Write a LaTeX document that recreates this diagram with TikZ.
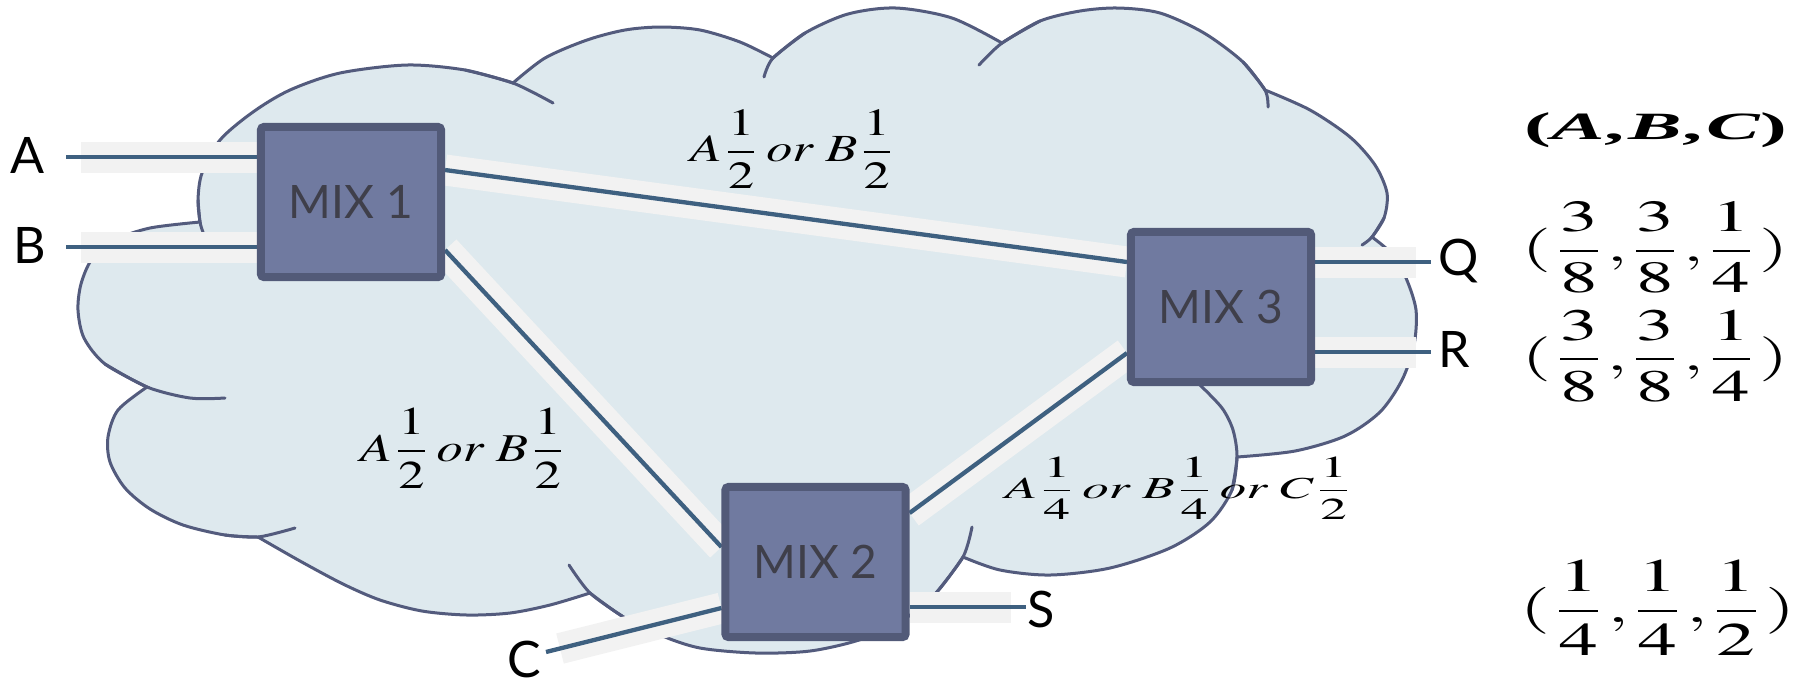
\documentclass[tikz,border=0pt]{standalone}
\usepackage{graphicx}
\usepackage{mathptmx}
\usepackage[no-math]{fontspec}
\newfontfamily\lato{Lato}
\newfontfamily\timesf{Liberation Serif}
\usetikzlibrary{calc}
\pgfdeclarelayer{bg}
\pgfdeclarelayer{lines}
\pgfsetlayers{bg,lines,main}
\definecolor{cloudfill}{HTML}{DEE9EE}
\definecolor{cloudline}{HTML}{535B7D}
\definecolor{boxfill}{HTML}{707AA0}
\definecolor{boxline}{HTML}{525A78}
\definecolor{mixtext}{HTML}{3F3F4A}
\definecolor{bandgray}{HTML}{F2F2F2}
\definecolor{wireblue}{HTML}{3E6080}
\begin{document}
\begin{tikzpicture}[x=0.01cm,y=-0.01cm,
  cloudstroke/.style={draw=cloudline,line width=0.03cm,line cap=round},
  mixbox/.style={draw=boxline,fill=boxfill,line width=0.08cm,rounded corners=0.03cm,
    minimum width=1.80cm,minimum height=1.50cm,text=mixtext,
    font=\lato\fontsize{13.1}{15}\selectfont},
  lbl/.style={inner sep=0pt,font=\lato\fontsize{14.3}{16}\selectfont,anchor=base west},
  mathlbl/.style={inner sep=0pt},
  band/.style={draw=bandgray,line width=0.31cm},
  wire/.style={draw=wireblue,line width=0.043cm}]
\useasboundingbox (0,0) rectangle (1804,684);

\begin{pgfonlayer}{bg}
\path[fill=cloudfill,cloudstroke]
    plot[smooth] coordinates {(200,222) (198,200) (202,173) (220,140) (253,112) (290,90) (340,73) (407,65) (465,70) (513,83)}
 -- plot[smooth] coordinates {(513,83) (545,58) (587,40) (625,30) (661,27) (700,30) (740,42) (773,58)}
 -- plot[smooth] coordinates {(773,58) (805,33) (848,14) (896,8) (952,18) (1002,43)}
 -- plot[smooth] coordinates {(1002,43) (1040,21) (1080,11) (1118,8) (1160,13) (1204,33) (1243,62) (1265,90)}
 -- plot[smooth] coordinates {(1265,90) (1310,110) (1350,137) (1375,165) (1387,193) (1384,218) (1372,237)}
 -- plot[smooth] coordinates {(1372,237) (1392,254) (1406,278) (1416,310) (1414,345) (1402,380) (1380,412) (1345,436) (1295,451) (1237,457)}
 -- plot[smooth] coordinates {(1237,457) (1232,490) (1210,522) (1170,548) (1110,568) (1050,575) (1000,570) (963,557)}
 -- plot[smooth] coordinates {(963,557) (936,593) (900,622) (859,640) (810,651) (756,653) (700,648) (660,635) (622,616) (590,593)}
 -- plot[smooth] coordinates {(590,593) (550,605) (510,613) (467,615) (422,611) (380,600) (343,584) (300,561) (258,537)}
 -- plot[smooth] coordinates {(258,537) (225,535) (183,525) (150,509) (125,488) (110,462) (108,437) (118,410) (147,387)}
 -- plot[smooth] coordinates {(147,387) (105,364) (84,338) (78,310) (81,284) (92,259) (115,240) (150,228) (200,222)}
 -- cycle;
\draw[cloudstroke] plot[smooth] coordinates {(198,200) (200,222) (203,232)};
\draw[cloudstroke] plot[smooth] coordinates {(465,70) (513,83) (553,103)};
\draw[cloudstroke] plot[smooth] coordinates {(805,33) (773,58) (764,77)};
\draw[cloudstroke] plot[smooth] coordinates {(1040,21) (1002,43) (979,65)};
\draw[cloudstroke] plot[smooth] coordinates {(1243,62) (1265,90) (1268,107)};
\draw[cloudstroke] plot[smooth] coordinates {(1384,218) (1372,237) (1362,245)};
\draw[cloudstroke] plot[smooth] coordinates {(1200,385) (1222,408) (1233,430) (1237,457) (1232,490)};
\draw[cloudstroke] plot[smooth] coordinates {(972,527) (963,557) (936,593)};
\draw[cloudstroke] plot[smooth] coordinates {(622,616) (590,593) (569,565)};
\draw[cloudstroke] plot[smooth] coordinates {(225,535) (258,537) (295,528)};
\draw[cloudstroke] plot[smooth] coordinates {(105,364) (147,387) (190,398) (225,398)};
\end{pgfonlayer}

% boxes
\node[mixbox] (m1) at (351,202) {MIX 1};
\node[mixbox] (m2) at (815.5,562) {MIX 2};
\node[mixbox] (m3) at (1221,307) {MIX 3};

% outside labels
\node[lbl] (A) at (10,173) {A};
\node[lbl] (B) at (13,263) {B};
\node[lbl] (C) at (507,677) {C};
\node[lbl] (S) at (1027,627) {S};
\node[lbl] (Q) at (1438,275) {Q};
\node[lbl] (R) at (1438,367) {R};

% free ends of connectors
\coordinate (a0) at (66,157);   \coordinate (a1) at (81,157);
\coordinate (b0) at (66,247);   \coordinate (b1) at (81,247);
\coordinate (c0) at (546,652);  \coordinate (c1) at (560,648.5);
\coordinate (s0) at (1026,607); \coordinate (s1) at (1011,607);
\coordinate (q0) at (1431,262); \coordinate (q1) at (1416,262);
\coordinate (r0) at (1431,352); \coordinate (r1) at (1416,352);

\begin{pgfonlayer}{lines}
% bands
\draw[band] (a1) -- ($(m1.west)+(0,-45)$);
\draw[band] (b1) -- ($(m1.west)+(0,45)$);
\draw[band] ($(m1.east)+(0,-32)$) -- ($(m3.west)+(0,-45)$);
\draw[band] ($(m1.east)+(0,48)$) -- ($(m2.west)+(0,-15)$);
\draw[band] ($(m2.east)+(0,-49)$) -- ($(m3.west)+(0,46)$);
\draw[band] (c1) -- ($(m2.west)+(0,46)$);
\draw[band] ($(m2.east)+(0,45)$) -- (s1);
\draw[band] ($(m3.east)+(0,-45)$) -- (q1);
\draw[band] ($(m3.east)+(0,45)$) -- (r1);
% wires
\draw[wire] (a0) -- ($(m1.west)+(0,-45)$);
\draw[wire] (b0) -- ($(m1.west)+(0,45)$);
\draw[wire] ($(m1.east)+(0,-32)$) -- ($(m3.west)+(0,-45)$);
\draw[wire] ($(m1.east)+(0,48)$) -- ($(m2.west)+(0,-15)$);
\draw[wire] ($(m2.east)+(0,-49)$) -- ($(m3.west)+(0,46)$);
\draw[wire] (c0) -- ($(m2.west)+(0,46)$);
\draw[wire] ($(m2.east)+(0,45)$) -- (s0);
\draw[wire] ($(m3.east)+(0,-45)$) -- (q0);
\draw[wire] ($(m3.east)+(0,45)$) -- (r0);
\end{pgfonlayer}

% flow labels
\node[mathlbl] (f13) at (793,149) {\resizebox*{2.06cm}{0.78cm}{$\displaystyle A\frac{1}{2}\,or\;B\frac{1}{2}$}};
\node[mathlbl] (f12) at (463.5,448) {\resizebox*{2.07cm}{0.80cm}{$\displaystyle A\frac{1}{2}\,or\;B\frac{1}{2}$}};
\node[mathlbl] (f23) at (1179,488) {\resizebox*{3.48cm}{0.62cm}{$\displaystyle A\frac{1}{4}\,or\;B\frac{1}{4}\,or\;C\frac{1}{2}$}};

% right column
\node[mathlbl] (hdr) at (1656,130) {\resizebox*{2.63cm}{0.35cm}{\timesf\bfseries(\textit{A},\kern0.05em\textit{B},\kern0.05em\textit{C})}};
\node[mathlbl] (vq) at (1655,247.5) {\resizebox*{2.66cm}{0.91cm}{$\displaystyle(\frac{3}{8},\!\frac{3}{8},\!\frac{1}{4})$}};
\node[mathlbl] (vr) at (1655,356) {\resizebox*{2.66cm}{0.92cm}{$\displaystyle(\frac{3}{8},\!\frac{3}{8},\!\frac{1}{4})$}};
\node[mathlbl] (vs) at (1657.5,607.5) {\resizebox*{2.75cm}{0.95cm}{$\displaystyle(\frac{1}{4},\!\frac{1}{4},\!\frac{1}{2})$}};
\end{tikzpicture}
\end{document}
